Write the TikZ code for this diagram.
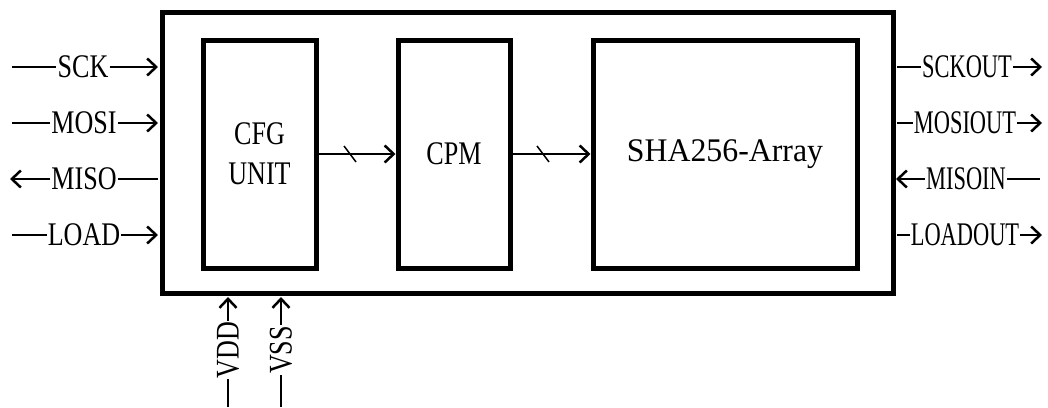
\documentclass[tikz,border=0pt]{standalone}
\usepackage{fontspec}
\setmainfont[FakeStretch=0.79]{Liberation Serif}
\usetikzlibrary{arrows.meta}
\newcommand{\narrow}[1]{\scalebox{0.86}[1]{#1}}
\begin{document}
\begin{tikzpicture}[x=1pt,y=-1pt,
  box/.style={draw,line width=5pt},
  sig/.style={line width=2.5pt},
  tip/.style={-{Straight Barb[length=9pt,width=17pt,line width=2.5pt]}},
  lbl/.style={inner sep=1pt,font=\fontsize{33}{40}\selectfont},
  blk/.style={align=center,font=\fontsize{33}{40}\selectfont}]
\useasboundingbox (0,0) rectangle (1048,407);
% boxes
\draw[box] (162,12) rectangle (893,293);
\node[box,minimum width=113pt,minimum height=228pt,inner sep=0pt] (cfg) at (259.5,154) {};
\node[box,minimum width=112pt,minimum height=228pt,inner sep=0pt] (cpm) at (454,154) {};
\node[box,minimum width=264pt,minimum height=228pt,inner sep=0pt] (sha) at (725,154) {};
\node[blk] at (cfg) {CFG\\UNIT};
\node[blk] at (cpm) {CPM};
\node[blk] at (sha) {\scalebox{1.22}[1]{SHA256-Array}};
% internal buses
\draw[sig,tip] (cfg.east) -- (cpm.west);
\draw[line width=1.5pt] (344,146) -- (356,162);
\draw[sig,tip] (cpm.east) -- (sha.west);
\draw[line width=1.5pt] (537,146) -- (549,162);
% left signals
\coordinate (l1) at (12,67); \coordinate (r1) at (158,67);
\node[lbl] (sck) at (83,67) {SCK};
\draw[sig] (l1) -- (sck.west); \draw[sig,tip] (sck.east) -- (r1);
\coordinate (l2) at (12,123); \coordinate (r2) at (158,123);
\node[lbl] (mosi) at (84,123) {MOSI};
\draw[sig] (l2) -- (mosi.west); \draw[sig,tip] (mosi.east) -- (r2);
\coordinate (l3) at (10,179); \coordinate (r3) at (158,179);
\node[lbl] (miso) at (84,179) {MISO};
\draw[sig,tip] (miso.west) -- (l3); \draw[sig] (r3) -- (miso.east);
\coordinate (l4) at (12,235); \coordinate (r4) at (158,235);
\node[lbl] (load) at (84,235) {LOAD};
\draw[sig] (l4) -- (load.west); \draw[sig,tip] (load.east) -- (r4);
% right signals
\coordinate (a1) at (897,67); \coordinate (b1) at (1042,67);
\node[lbl] (sckout) at (967,67) {\narrow{SCKOUT}};
\draw[sig] (a1) -- (sckout.west); \draw[sig,tip] (sckout.east) -- (b1);
\coordinate (a2) at (897,123); \coordinate (b2) at (1042,123);
\node[lbl] (mosiout) at (965,123) {\narrow{MOSIOUT}};
\draw[sig] (a2) -- (mosiout.west); \draw[sig,tip] (mosiout.east) -- (b2);
\coordinate (a3) at (896,179); \coordinate (b3) at (1040,179);
\node[lbl] (misoin) at (966,179) {\narrow{MISOIN}};
\draw[sig,tip] (misoin.west) -- (a3); \draw[sig] (b3) -- (misoin.east);
\coordinate (a4) at (897,235); \coordinate (b4) at (1042,235);
\node[lbl] (loadout) at (965,235) {\narrow{LOADOUT}};
\draw[sig] (a4) -- (loadout.west); \draw[sig,tip] (loadout.east) -- (b4);
% bottom supplies
\coordinate (v1b) at (228,407); \coordinate (v1t) at (228,297);
\node[lbl,rotate=90] (vdd) at (228,350) {VDD};
\draw[sig] (v1b) -- (vdd.west); \draw[sig,tip] (vdd.east) -- (v1t);
\coordinate (v2b) at (281,407); \coordinate (v2t) at (281,297);
\node[lbl,rotate=90] (vss) at (281,350) {VSS};
\draw[sig] (v2b) -- (vss.west); \draw[sig,tip] (vss.east) -- (v2t);
\end{tikzpicture}
\end{document}
